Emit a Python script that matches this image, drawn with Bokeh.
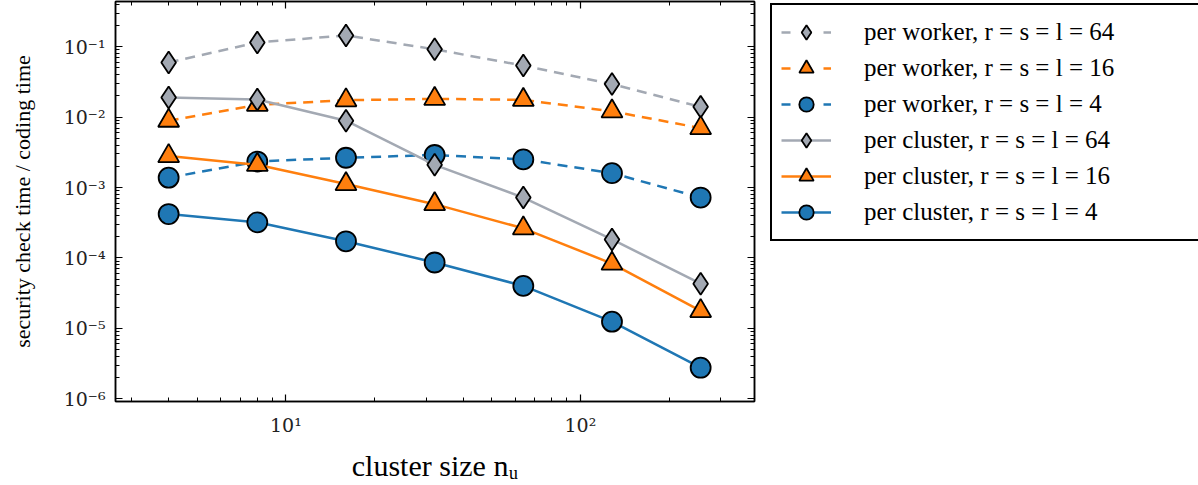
from bokeh.plotting import figure
from bokeh.layouts import row
from bokeh.models import (LogAxis, Legend, LegendItem, CustomJSTickFormatter,
                          FixedTicker, Range1d)
from bokeh.embed import file_html
from bokeh.resources import INLINE

# ---- data ----
cluster_size = [4, 8, 16, 32, 64, 128, 256]
worker_64 = [0.060, 0.115, 0.145, 0.092, 0.054, 0.0295, 0.014]
worker_16 = [0.0089, 0.015, 0.0174, 0.0182, 0.0176, 0.0121, 0.0070]
worker_4 = [0.00138, 0.00234, 0.00265, 0.0029, 0.00251, 0.0016, 0.00072]
cluster_64 = [0.019, 0.0178, 0.0089, 0.0021, 0.00072, 0.000183, 0.000043]
cluster_16 = [0.0028, 0.0021, 0.00112, 0.00058, 0.000263, 0.000083, 0.0000176]
cluster_4 = [0.00042, 0.00032, 0.000172, 0.000086, 0.000040, 0.0000124, 0.00000275]

labels = [
    "per worker, r = s = l = 64",
    "per worker, r = s = l = 16",
    "per worker, r = s = l = 4",
    "per cluster, r = s = l = 64",
    "per cluster, r = s = l = 16",
    "per cluster, r = s = l = 4",
]

x_major = [10, 100]
y_major = [1e-6, 1e-5, 1e-4, 1e-3, 1e-2, 1e-1]

GRAY = "#a3a9b3"
ORANGE = "#ff7f0e"
BLUE = "#1f77b4"
SERIF = "Liberation Serif"

x_minor = [m * d for d in (1, 10, 100) for m in range(2, 10) if 2.6 < m * d < 400]
y_minor = [m * 10.0 ** e for e in range(-7, 0) for m in range(2, 10)]

p = figure(x_axis_type="log", y_axis_type="log",
           x_range=Range1d(2.64, 390), y_range=Range1d(9.1e-7, 0.44),
           frame_width=639, frame_height=400,
           output_backend="svg", toolbar_location=None,
           min_border_left=115, min_border_top=1, min_border_right=14,
           min_border_bottom=0, background_fill_color="white",
           border_fill_color="white")
p.grid.visible = False
p.outline_line_color = "black"
p.outline_line_width = 1.5

sup_js = """
const e = Math.round(Math.log10(tick));
const sup = {'-':'\u207b','0':'\u2070','1':'\u00b9','2':'\u00b2','3':'\u00b3',
             '4':'\u2074','5':'\u2075','6':'\u2076','7':'\u2077','8':'\u2078','9':'\u2079'};
return '10' + String(e).split('').map(c => sup[c]).join('');
"""
fmt = CustomJSTickFormatter(code=sup_js)
blank = CustomJSTickFormatter(code="return '';")

xt = FixedTicker(ticks=x_major, minor_ticks=x_minor)
yt = FixedTicker(ticks=y_major, minor_ticks=y_minor)


def style_axis(ax):
    ax.major_tick_in = 7
    ax.major_tick_out = 0
    ax.minor_tick_in = 4
    ax.minor_tick_out = 0
    ax.axis_line_color = "black"
    ax.axis_line_width = 1.5
    ax.major_tick_line_width = 1.2
    ax.minor_tick_line_width = 1.0
    ax.major_label_text_font = "DejaVu Serif"
    ax.major_label_text_font_size = "19px"
    ax.major_label_text_color = "#222222"
    ax.axis_label_text_font = SERIF
    ax.axis_label_text_font_style = "normal"
    ax.axis_label_text_color = "black"


xa = p.xaxis[0]
xa.ticker = xt
xa.formatter = fmt
style_axis(xa)
xa.major_label_standoff = 12
xa.axis_label = "cluster size n\u1d64"
xa.axis_label_text_font_size = "30px"
xa.axis_label_standoff = 10

ya = p.yaxis[0]
ya.ticker = yt
ya.formatter = fmt
style_axis(ya)
ya.major_label_standoff = 10
ya.axis_label = "security check time / coding time"
ya.axis_label_text_font_size = "22px"
ya.axis_label_standoff = 26

top = LogAxis(ticker=xt, formatter=blank)
style_axis(top)
top.major_label_standoff = 0
top.major_label_text_font_size = "0px"
p.add_layout(top, "above")

right = LogAxis(ticker=yt, formatter=blank)
style_axis(right)
right.major_label_standoff = 0
right.major_label_text_font_size = "0px"
p.add_layout(right, "right")

series = [
    (worker_64, GRAY, "dashed", "diamond", 22),
    (worker_16, ORANGE, "dashed", "triangle", 21),
    (worker_4, BLUE, "dashed", "circle", 20),
    (cluster_64, GRAY, "solid", "diamond", 22),
    (cluster_16, ORANGE, "solid", "triangle", 21),
    (cluster_4, BLUE, "solid", "circle", 20),
]

# legend lives in its own small figure to the right of the plot;
# its proxy glyphs use the same data but fall outside that figure's ranges
lg = figure(width=430, height=470, output_backend="svg", toolbar_location=None,
            x_range=Range1d(0, 1), y_range=Range1d(0, 1),
            min_border=0, background_fill_color="white", border_fill_color="white")
lg.axis.visible = False
lg.grid.visible = False
lg.outline_line_color = None

items = []
for (ys, col, dash, marker, size), lab in zip(series, labels):
    dash_s = "10 7" if dash == "dashed" else "solid"
    p.line(cluster_size, ys, line_color=col, line_width=2.5, line_dash=dash_s)
    p.scatter(cluster_size, ys, marker=marker, size=size, fill_color=col,
              line_color="black", line_width=1.8)
    ln = lg.line(cluster_size, ys, line_color=col, line_width=2.5,
                 line_dash=("9 12" if dash == "dashed" else "solid"))
    sc = lg.scatter(cluster_size, ys, marker=marker, size=size, fill_color=col,
                    line_color="black", line_width=1.8)
    items.append(LegendItem(label=lab, renderers=[ln, sc]))

legend = Legend(items=items, location="top_left")
legend.margin = 2
legend.padding = 9
legend.spacing = 0
legend.glyph_width = 50
legend.glyph_height = 36
legend.label_standoff = 33
legend.label_width = 327
legend.label_text_font = SERIF
legend.label_text_font_size = "25px"
legend.label_text_color = "black"
legend.border_line_color = "black"
legend.border_line_alpha = 1.0
legend.border_line_width = 2.5
legend.background_fill_color = "white"
legend.background_fill_alpha = 1.0
lg.add_layout(legend)

open("out.html", "w").write(file_html(row(p, lg), INLINE))
